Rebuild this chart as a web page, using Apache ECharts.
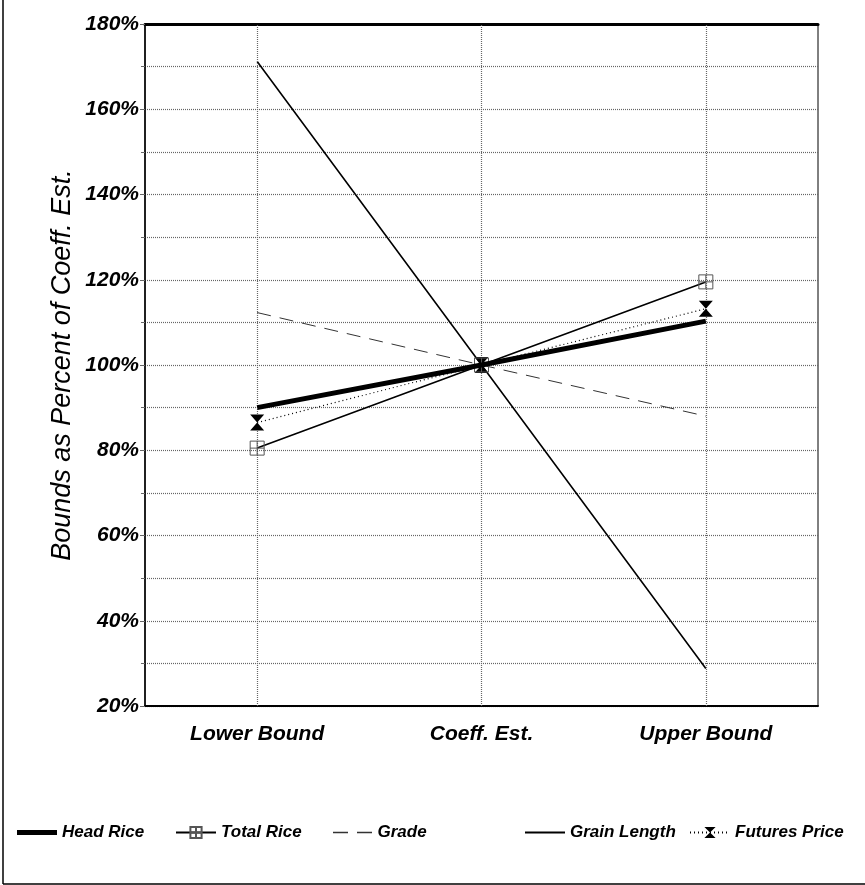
<!DOCTYPE html>
<html>
<head>
<meta charset="utf-8">
<script src="https://cdn.jsdelivr.net/npm/echarts@6/dist/echarts.min.js"></script>
<style>
html,body{margin:0;padding:0;background:#fff;}
#chart{width:865px;height:885px;}
</style>
</head>
<body>
<div id="chart"></div>
<script>
// ---- data ----
const categories = ['Lower Bound', 'Coeff. Est.', 'Upper Bound'];
const headRice = [90, 100, 110.3];
const totalRice = [80.5, 100, 119.5];
const grade = [112.3, 100, 88];
const grainLength = [171.2, 100, 28.8];
const futuresPrice = [86.5, 100, 113.2];
const yMin = 20, yMax = 180, yStep = 20;

const NARROW = '"Liberation Sans Narrow", "Arial Narrow", "Liberation Sans", sans-serif';
const GRID = '#666';

const chart = echarts.init(document.getElementById('chart'));

const legendText = {fontFamily: NARROW, fontStyle: 'italic', fontWeight: 'bold', fontSize: 17, color: '#000'};
function leg(item, left, h) {
  return {data: [item], left: left, top: 819, itemWidth: 40, itemHeight: h, itemGap: 6,
          textStyle: legendText, selectedMode: false};
}

const option = {
  animation: false,
  backgroundColor: '#fff',
  grid: {left: 145, right: 47, top: 24, bottom: 179, show: true, borderColor: '#000', borderWidth: 1},
  legend: [
    leg({name: 'Head Rice', icon: 'rect'}, 12, 5),
    leg('Total Rice', 170, 14),
    leg({name: 'Grade', icon: 'path://M0,0H10V1H0Z M16,0H26V1H16Z'}, 328, 1.5),
    leg({name: 'Grain Length', icon: 'rect'}, 520, 2),
    leg('Futures Price', 684, 14)
  ],
  xAxis: [{
    type: 'category',
    data: categories,
    boundaryGap: true,
    axisLine: {lineStyle: {color: '#000', width: 2}},
    axisTick: {alignWithLabel: true, length: 14, lineStyle: {color: GRID, type: [1, 1]}},
    axisLabel: {fontFamily: NARROW, fontStyle: 'italic', fontWeight: 'bold', fontSize: 21, color: '#000', margin: 18},
    splitLine: {show: false}
  }, {
    type: 'category',
    position: 'top',
    data: categories,
    axisLine: {lineStyle: {color: '#000', width: 3}},
    axisTick: {show: false},
    axisLabel: {show: false}
  }],
  yAxis: {
    type: 'value',
    min: yMin, max: yMax, interval: yStep,
    name: 'Bounds as Percent of Coeff. Est.',
    nameLocation: 'middle',
    nameGap: 69,
    nameMoveOverlap: false,
    nameRotate: 90,
    nameTextStyle: {fontFamily: '"Liberation Sans", Arial, sans-serif', fontStyle: 'italic', fontSize: 27, color: '#000'},
    axisLine: {show: true, lineStyle: {color: '#000', width: 1.5}},
    axisTick: {show: true, length: 5, lineStyle: {color: GRID}},
    minorTick: {show: true, splitNumber: 2, length: 4, lineStyle: {color: GRID}},
    axisLabel: {formatter: '{value}%', fontFamily: NARROW, fontStyle: 'italic', fontWeight: 'bold', fontSize: 21, color: '#000', margin: 6},
    splitLine: {show: true, lineStyle: {color: GRID, type: [1, 1], width: 1.2}},
    minorSplitLine: {show: true, lineStyle: {color: GRID, type: [1, 1], width: 1.2}}
  },
  series: [
    {
      name: 'Grade', type: 'line', data: grade, symbol: 'none', z: 3,
      lineStyle: {color: '#333', width: 1, type: [14, 9]},
      itemStyle: {color: '#333'},
      markLine: {
        silent: true, symbol: 'none', label: {show: false},
        lineStyle: {color: GRID, type: [1, 1], width: 1.2},
        data: categories.map(c => ({xAxis: c}))
      }
    },
    {
      name: 'Grain Length', type: 'line', data: grainLength, symbol: 'none', z: 4,
      lineStyle: {color: '#000', width: 1.6},
      itemStyle: {color: '#000'}
    },
    {
      name: 'Futures Price', type: 'line', data: futuresPrice, z: 5,
      symbol: 'path://M0,0L10,0L5,5L10,10L0,10L5,5Z', symbolSize: [14, 16], showSymbol: true,
      lineStyle: {color: '#000', width: 1.2, type: [1, 3]},
      itemStyle: {color: '#000'}
    },
    {
      name: 'Total Rice', type: 'line', data: totalRice, z: 6,
      symbol: 'path://M0,0H10V10H0Z M5,0V10 M0,5H10', symbolSize: 14, showSymbol: true,
      lineStyle: {color: '#000', width: 1.6},
      itemStyle: {color: 'rgba(255,255,255,0)', borderColor: '#555', borderWidth: 1}
    },
    {
      name: 'Head Rice', type: 'line', data: headRice, symbol: 'none', z: 7,
      lineStyle: {color: '#000', width: 5},
      itemStyle: {color: '#000'}
    }
  ],
  graphic: [
    {type: 'line', shape: {x1: 3, y1: 0, x2: 3, y2: 884}, style: {stroke: '#000', lineWidth: 1.5}, silent: true},
    {type: 'line', shape: {x1: 3, y1: 884, x2: 865, y2: 884}, style: {stroke: '#000', lineWidth: 1.5}, silent: true}
  ]
};
chart.setOption(option);
</script>
</body>
</html>
